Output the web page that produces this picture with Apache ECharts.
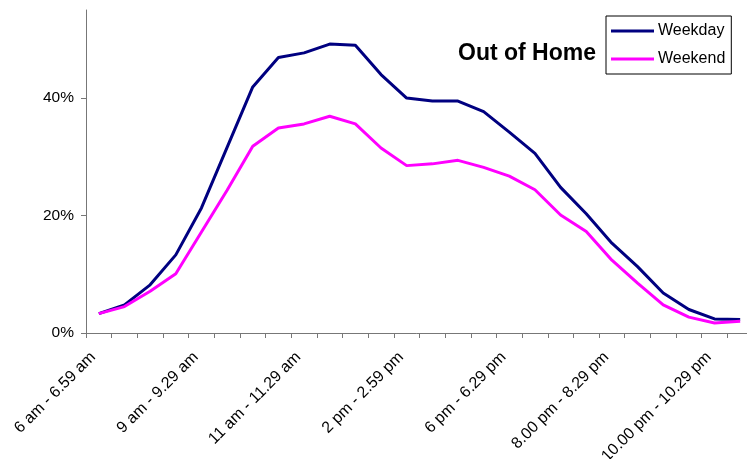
<!DOCTYPE html>
<html>
<head>
<meta charset="utf-8">
<script src="https://cdn.jsdelivr.net/npm/echarts@6/dist/echarts.min.js"></script>
<style>
html,body{margin:0;padding:0;background:#fff;}
#chart{width:747px;height:459px;}
</style>
</head>
<body>
<div id="chart"></div>
<script>
const categories = [
  "6 am - 6.59 am", "7 am - 7.59 am", "8 am - 8.29 am", "8.30 am - 8.59 am",
  "9 am - 9.29 am", "9.30 am - 9.59 am", "10 am - 10.29 am", "10.30 am - 10.59 am",
  "11 am - 11.29 am", "11.30 am - 11.59 am", "12 pm - 12.59 pm", "1 pm - 1.59 pm",
  "2 pm - 2.59 pm", "3 pm - 3.59 pm", "4 pm - 4.59 pm", "5 pm - 5.59 pm",
  "6 pm - 6.29 pm", "6.30 pm - 6.59 pm", "7.00 pm - 7.29 pm", "7.30 pm - 7.59 pm",
  "8.00 pm - 8.29 pm", "8.30 pm - 8.59 pm", "9.00 pm - 9.29 pm", "9.30 pm - 9.59 pm",
  "10.00 pm - 10.29 pm", "10.30 pm - 10.59 pm"
];
const weekday = [3.3, 4.8, 8.2, 13.3, 21.3, 31.6, 41.9, 46.9, 47.7, 49.2, 49.0, 44.0, 40.0,
                 39.5, 39.5, 37.7, 34.2, 30.6, 24.8, 20.3, 15.3, 11.3, 6.8, 4.0, 2.4, 2.3];
const weekend = [3.3, 4.5, 7.1, 10.1, 17.2, 24.3, 31.8, 34.9, 35.6, 36.9, 35.6, 31.5, 28.5,
                 28.8, 29.4, 28.2, 26.7, 24.4, 20.1, 17.3, 12.4, 8.5, 4.8, 2.7, 1.7, 2.0];
const yTicks = [0, 20, 40];
const titleText = "Out of Home";

const FONT = '"Liberation Sans", Arial, sans-serif';
const chart = echarts.init(document.getElementById('chart'), null, {renderer: 'canvas'});
chart.setOption({
  animation: false,
  backgroundColor: '#ffffff',
  title: {
    text: titleText,
    left: 458, top: 42, padding: 0,
    textStyle: {fontFamily: FONT, fontSize: 23, fontWeight: 'bold', color: '#000', lineHeight: 23}
  },
  legend: {
    orient: 'vertical',
    left: 606, top: 16,
    padding: [7, 6, 7, 5],
    borderColor: '#000', borderWidth: 1,
    itemWidth: 43, itemHeight: 3, itemGap: 12,
    icon: 'rect',
    textStyle: {fontFamily: FONT, fontSize: 16, color: '#000', lineHeight: 16, padding: [0, 0, 0, -1]},
    data: ['Weekday', 'Weekend']
  },
  grid: {left: 86, top: 10, bottom: 126, right: -6, containLabel: false, outerBoundsMode: 'none'},
  xAxis: {
    type: 'category',
    data: categories,
    boundaryGap: true,
    axisLine: {lineStyle: {color: '#777', width: 1}},
    axisTick: {show: true, length: 5, interval: 0, lineStyle: {color: '#777'}},
    axisLabel: {
      interval: 3, rotate: 45, margin: 16, padding: [0, 8, 0, 0],
      fontFamily: FONT, fontSize: 16, color: '#000'
    },
    splitLine: {show: false}
  },
  yAxis: {
    type: 'value',
    min: 0, max: 55,
    axisLine: {show: true, lineStyle: {color: '#777', width: 1}},
    axisTick: {show: true, length: 5, customValues: yTicks, lineStyle: {color: '#777'}},
    axisLabel: {
      customValues: yTicks, margin: 12,
      formatter: '{value}%',
      fontFamily: FONT, fontSize: 15.5, color: '#000'
    },
    splitLine: {show: false}
  },
  series: [
    {
      name: 'Weekday', type: 'line', data: weekday,
      symbol: 'none', smooth: false,
      lineStyle: {color: '#000080', width: 3},
      itemStyle: {color: '#000080'}
    },
    {
      name: 'Weekend', type: 'line', data: weekend,
      symbol: 'none', smooth: false,
      lineStyle: {color: '#ff00ff', width: 3},
      itemStyle: {color: '#ff00ff'}
    }
  ]
});
</script>
</body>
</html>
